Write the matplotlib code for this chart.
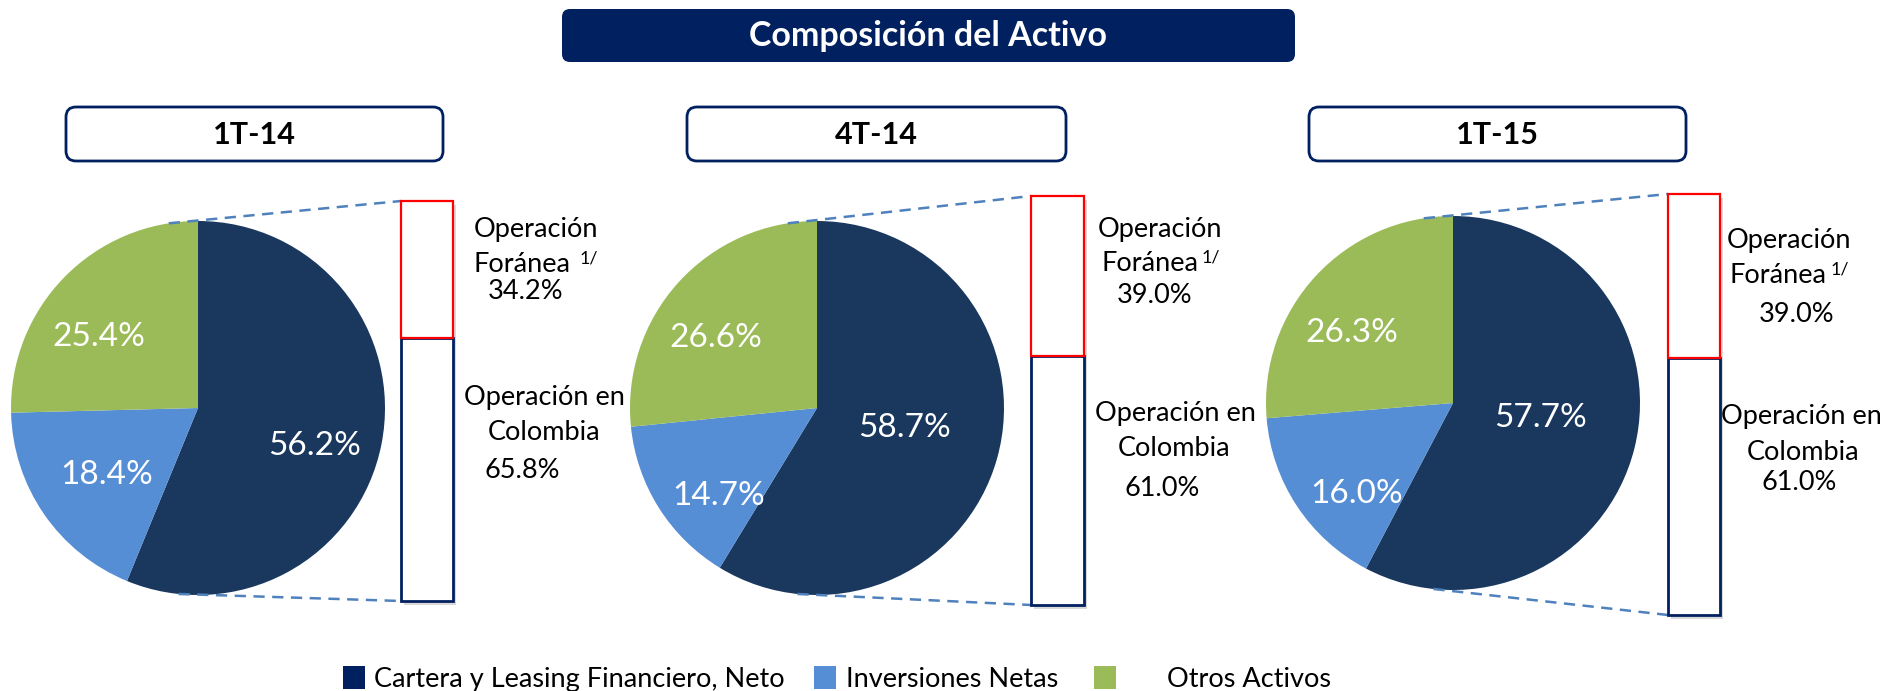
import numpy as np
import matplotlib
matplotlib.use("Agg")
import matplotlib.pyplot as plt
from matplotlib.patches import Rectangle, FancyBboxPatch

plt.rcParams['font.family'] = ['Lato', 'DejaVu Sans']

# ---- data ----
periods = ["1T-14", "4T-14", "1T-15"]
categories = ["Cartera y Leasing Financiero, Neto", "Inversiones Netas", "Otros Activos"]
cartera = [56.2, 58.7, 57.7]
inversiones = [18.4, 14.7, 16.0]
otros = [25.4, 26.6, 26.3]
foranea = [34.2, 39.0, 39.0]
colombia = [65.8, 61.0, 61.0]

colors = ["#1a375e", "#558ed5", "#9bbb59"]
legend_colors = ["#002060", "#558ed5", "#9bbb59"]
navy = "#002060"
dash_col = "#4f81bd"

W, H = 1880, 691

def Y(y):
    # pixel row (from top) -> data y
    return H - y

fig = plt.figure(figsize=(W / 100, H / 100), dpi=100)
ax = fig.add_axes([0, 0, 1, 1])

# layout (pixels, y from top)
pie_c = [(198, 408), (817, 408), (1453, 403)]
pie_r = 187
bars = [(401, 453, 201, 601), (1031, 1084, 196, 605), (1668, 1720, 194, 615)]
panel_box = [(66, 443), (687, 1066), (1309, 1686)]
# where the slice labels sit (cartera, inversiones, otros)
pct_pos = [[(315, 446), (107, 475), (99, 337)],
           [(905, 428), (719, 496), (716, 338)],
           [(1541, 418), (1357, 494), (1352, 333)]]

txt_for = [(536, 229, 522, 264, 580, 526, 291),
           (1160, 229, 1150, 263, 1202, 1155, 295),
           (1789, 240, 1778, 275, 1831, 1797, 314)]
txt_col = [(544, 397, 544, 432, 522, 471),
           (1175, 413, 1174, 449, 1162, 489),
           (1801, 416, 1803, 452, 1799, 483)]

fs_side = 19.5

for i in range(3):
    cx, cy = pie_c[i]
    vals = [cartera[i], inversiones[i], otros[i]]
    wedges, _, autotexts = ax.pie(vals, colors=colors, startangle=90, counterclock=False,
                                  center=(cx, Y(cy)), radius=pie_r,
                                  autopct=lambda p: f"{p:.1f}%", pctdistance=0.64,
                                  textprops=dict(color="white", fontsize=24),
                                  wedgeprops=dict(linewidth=0))
    for t, (px, py) in zip(autotexts, pct_pos[i]):
        t.set_position((px, Y(py)))

    # bar split foreign / colombia
    x0, x1, top, bot = bars[i]
    split = top + foranea[i] / 100.0 * (bot - top)
    ax.add_patch(Rectangle((x0 + 3, Y(bot) - 4), x1 - x0, bot - top,
                           facecolor="#bfbfbf", edgecolor="none", alpha=0.6, zorder=2))
    ax.add_patch(Rectangle((x0, Y(bot)), x1 - x0, bot - split,
                           facecolor="white", edgecolor=navy, lw=2, zorder=3))
    ax.add_patch(Rectangle((x0, Y(split)), x1 - x0, split - top,
                           facecolor="white", edgecolor="#ff0000", lw=1.6, zorder=4))

    # dashed connectors
    a1, a2 = np.deg2rad(99), np.deg2rad(-96)
    ax.plot([cx + pie_r * np.cos(a1), x0], [Y(cy) + pie_r * np.sin(a1), Y(top)],
            color=dash_col, lw=1.8, dashes=(4.5, 3), zorder=1)
    ax.plot([cx + pie_r * np.cos(a2), x0], [Y(cy) + pie_r * np.sin(a2), Y(bot)],
            color=dash_col, lw=1.8, dashes=(4.5, 3), zorder=1)

    # side labels
    t = txt_for[i]
    ax.text(t[0], Y(t[1]), "Operación", ha="center", va="center", fontsize=fs_side)
    ax.text(t[2], Y(t[3]), "Foránea", ha="center", va="center", fontsize=fs_side)
    ax.text(t[4], Y(t[3] - 6), "1/", ha="left", va="center", fontsize=13)
    ax.text(t[5], Y(t[6]), f"{foranea[i]:.1f}%", ha="center", va="center", fontsize=fs_side)
    c = txt_col[i]
    ax.text(c[0], Y(c[1]), "Operación en", ha="center", va="center", fontsize=fs_side)
    ax.text(c[2], Y(c[3]), "Colombia", ha="center", va="center", fontsize=fs_side)
    ax.text(c[4], Y(c[5]), f"{colombia[i]:.1f}%", ha="center", va="center", fontsize=fs_side)

    # panel title box
    bx0, bx1 = panel_box[i]
    ax.add_patch(FancyBboxPatch((bx0, Y(161)), bx1 - bx0, 54,
                                boxstyle="round,pad=0,rounding_size=10",
                                facecolor="white", edgecolor=navy, lw=2))
    ax.text((bx0 + bx1) / 2, Y(135), periods[i], ha="center", va="center",
            fontsize=22, fontweight="bold")

# main title
ax.add_patch(FancyBboxPatch((562, Y(62)), 733, 53,
                            boxstyle="round,pad=0,rounding_size=8",
                            facecolor=navy, edgecolor="none"))
ax.text(928, Y(36), "Composición del Activo", ha="center", va="center",
        color="white", fontsize=24.5, fontweight="bold")

# legend
sq_x = [343, 814, 1094]
lab_x = [374, 846, 1167]
for i in range(3):
    ax.add_patch(Rectangle((sq_x[i], Y(689)), 22, 23, facecolor=legend_colors[i],
                           edgecolor="none"))
    ax.text(lab_x[i], Y(687), categories[i], ha="left", va="baseline", fontsize=19.5)

ax.set_xlim(0, W)
ax.set_ylim(0, H)
ax.set_aspect("auto")
ax.axis("off")

fig.savefig("out.png", dpi=100)
